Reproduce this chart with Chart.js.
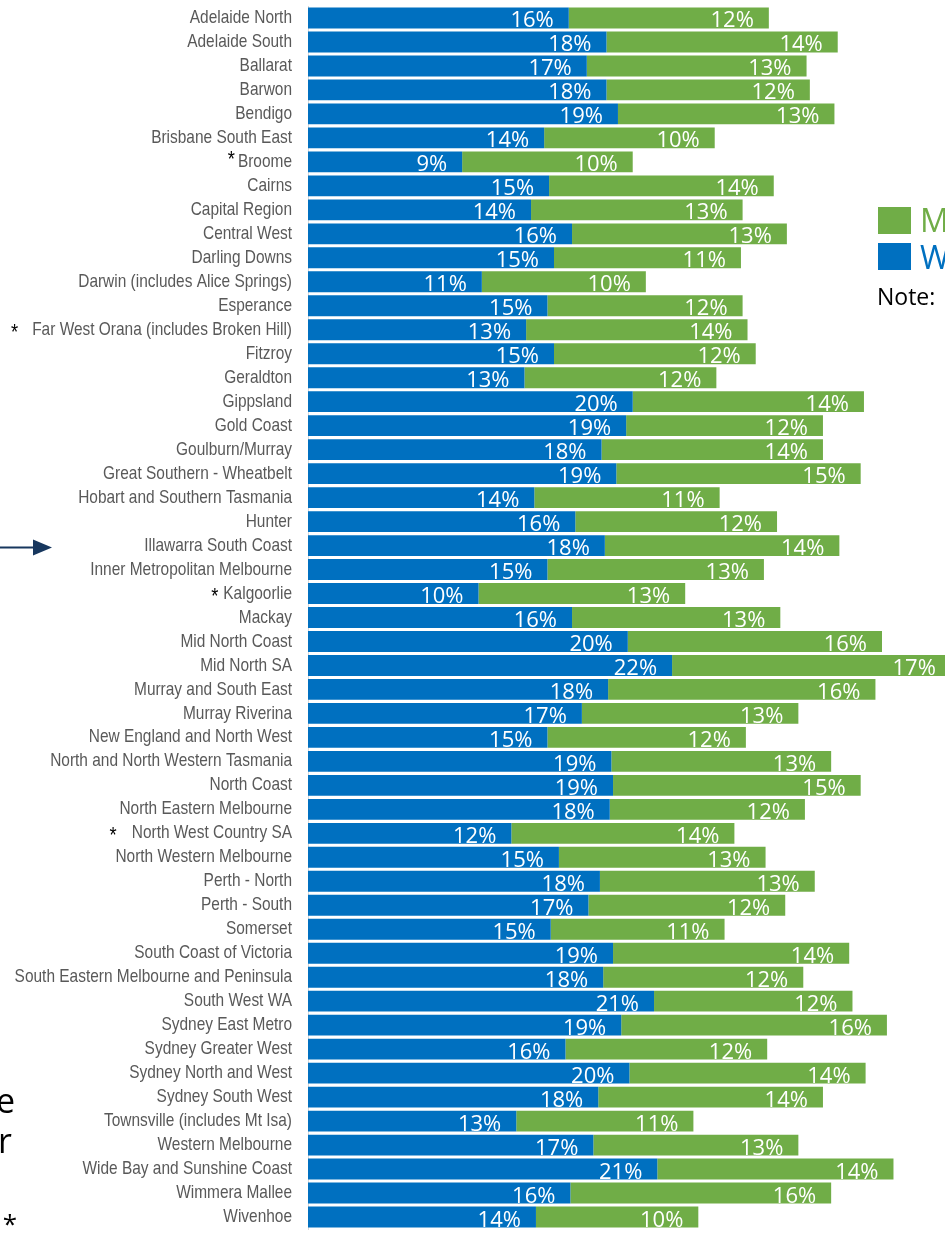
<!DOCTYPE html>
<html>
<head>
<meta charset="utf-8">
<script src="https://cdn.jsdelivr.net/npm/chart.js@4/dist/chart.umd.min.js"></script>
<style>
  html, body { margin: 0; padding: 0; background: #ffffff; }
  #wrap { position: relative; width: 945px; height: 1234px; }
</style>
</head>
<body>
<div id="wrap"><canvas id="chart"></canvas></div>
<script>
// regions, top to bottom
var regions = [
  'Adelaide North', 'Adelaide South', 'Ballarat', 'Barwon', 'Bendigo',
  'Brisbane South East', 'Broome', 'Cairns', 'Capital Region', 'Central West',
  'Darling Downs', 'Darwin (includes Alice Springs)', 'Esperance',
  'Far West Orana (includes Broken Hill)', 'Fitzroy', 'Geraldton', 'Gippsland',
  'Gold Coast', 'Goulburn/Murray', 'Great Southern - Wheatbelt',
  'Hobart and Southern Tasmania', 'Hunter', 'Illawarra South Coast',
  'Inner Metropolitan Melbourne', 'Kalgoorlie', 'Mackay', 'Mid North Coast',
  'Mid North SA', 'Murray and South East', 'Murray Riverina',
  'New England and North West', 'North and North Western Tasmania', 'North Coast',
  'North Eastern Melbourne', 'North West Country SA', 'North Western Melbourne',
  'Perth - North', 'Perth - South', 'Somerset', 'South Coast of Victoria',
  'South Eastern Melbourne and Peninsula', 'South West WA', 'Sydney East Metro',
  'Sydney Greater West', 'Sydney North and West', 'Sydney South West',
  'Townsville (includes Mt Isa)', 'Western Melbourne', 'Wide Bay and Sunshine Coast',
  'Wimmera Mallee', 'Wivenhoe'
];

// W (blue) share, %
var womenValues = [
  15.9, 18.2, 17.0, 18.2, 18.9, 14.4, 9.4, 14.7, 13.6, 16.1,
  15.0, 10.6, 14.6, 13.3, 15.0, 13.2, 19.8, 19.4, 17.9, 18.8,
  13.8, 16.3, 18.1, 14.6, 10.4, 16.1, 19.5, 22.2, 18.3, 16.7,
  14.6, 18.5, 18.6, 18.4, 12.4, 15.3, 17.8, 17.1, 14.8, 18.6,
  18.0, 21.1, 19.1, 15.7, 19.6, 17.7, 12.7, 17.4, 21.3, 16.0,
  13.9
];

// M (green) share, %
var menValues = [
  12.2, 14.1, 13.4, 12.4, 13.2, 10.4, 10.4, 13.7, 12.9, 13.1,
  11.4, 10.0, 11.9, 13.5, 12.3, 11.7, 14.1, 12.0, 13.5, 14.9,
  11.3, 12.3, 14.3, 13.2, 12.6, 12.7, 15.5, 17.0, 16.3, 13.2,
  12.1, 13.4, 15.1, 11.9, 13.6, 12.6, 13.1, 12.0, 10.6, 14.4,
  12.2, 12.1, 16.2, 12.3, 14.4, 13.7, 10.8, 12.5, 14.4, 15.9,
  9.9
];

// regions flagged with an asterisk, and the gap before the label
var starred = ['Broome', 'Far West Orana (includes Broken Hill)', 'Kalgoorlie', 'North West Country SA'];
var starGaps = [3, 14, 5, 15];

var BLUE = '#0070c0';
var GREEN = '#70ad47';
var LABEL_FONT = '18.5px "Liberation Sans", Arial, sans-serif';
var NARROW = 0.835; // squeeze to look like a narrow face
var AXIS_WIDTH = 308;
var LABEL_RIGHT = 292;

// white % labels near the end of each segment
var valueLabels = {
  id: 'valueLabels',
  afterDatasetsDraw: function(chart) {
    var ctx = chart.ctx;
    ctx.save();
    ctx.fillStyle = '#ffffff';
    ctx.font = '22px "Open Sans", sans-serif';
    ctx.textAlign = 'right';
    ctx.textBaseline = 'alphabetic';
    chart.data.datasets.forEach(function(ds, i) {
      chart.getDatasetMeta(i).data.forEach(function(bar, j) {
        ctx.fillText(Math.round(ds.data[j]) + '%', bar.x - 15, bar.y + 9.5);
      });
    });
    ctx.restore();
  }
};

// region names in a narrow face, plus asterisks
var regionLabels = {
  id: 'regionLabels',
  afterDraw: function(chart) {
    var ctx = chart.ctx;
    var yScale = chart.scales.y;
    ctx.save();
    ctx.font = LABEL_FONT;
    ctx.textAlign = 'right';
    ctx.textBaseline = 'middle';
    regions.forEach(function(name, i) {
      var y = yScale.getPixelForValue(i);
      ctx.save();
      ctx.translate(LABEL_RIGHT, y);
      ctx.scale(NARROW, 1);
      ctx.fillStyle = '#595959';
      ctx.fillText(name, 0, 0);
      var k = starred.indexOf(name);
      if (k >= 0) {
        var w = ctx.measureText(name).width;
        ctx.fillStyle = '#000000';
        ctx.font = '22px "Liberation Sans", Arial, sans-serif';
        ctx.fillText('*', -w - starGaps[k] / NARROW, k === 0 ? -2 : 3);
      }
      ctx.restore();
    });
    ctx.restore();
  }
};

// cut-off legend, note, arrow and side text
var extras = {
  id: 'extras',
  afterDraw: function(chart) {
    var ctx = chart.ctx;
    var yScale = chart.scales.y;
    ctx.save();

    // legend squares (text runs off the page)
    ctx.fillStyle = GREEN;
    ctx.fillRect(878, 207, 33, 27);
    ctx.fillStyle = BLUE;
    ctx.fillRect(878, 243, 33, 27);
    ctx.font = '32px "Open Sans", sans-serif';
    ctx.textAlign = 'left';
    ctx.textBaseline = 'alphabetic';
    ctx.fillStyle = GREEN;
    ctx.fillText('Men', 920, 232);
    ctx.fillStyle = BLUE;
    ctx.fillText('Women', 920, 269);
    ctx.fillStyle = '#000000';
    ctx.font = '23px "Open Sans", sans-serif';
    ctx.fillText('Note:', 877, 305);

    // arrow pointing at Illawarra South Coast
    var ay = yScale.getPixelForValue(regions.indexOf('Illawarra South Coast')) + 2;
    ctx.strokeStyle = '#17375e';
    ctx.fillStyle = '#17375e';
    ctx.lineWidth = 2;
    ctx.beginPath();
    ctx.moveTo(0, ay);
    ctx.lineTo(36, ay);
    ctx.stroke();
    ctx.beginPath();
    ctx.moveTo(33, ay - 8);
    ctx.lineTo(52, ay);
    ctx.lineTo(33, ay + 8);
    ctx.closePath();
    ctx.fill();

    // fragments of text cut off on the left edge
    ctx.fillStyle = '#000000';
    ctx.font = '34px "Open Sans", sans-serif';
    ctx.textAlign = 'right';
    ctx.fillText('e', 15, 1113);
    ctx.fillText('r', 12, 1153);
    ctx.font = '26px "Open Sans", sans-serif';
    ctx.fillText('*', 17, 1233);
    ctx.restore();
  }
};

window.onload = function() {
  var ctx = document.getElementById('chart').getContext('2d');
  var config = {
    type: 'bar',
    data: {
      labels: regions,
      datasets: [{
        label: 'Women',
        data: womenValues,
        backgroundColor: BLUE
      }, {
        label: 'Men',
        data: menValues,
        backgroundColor: GREEN
      }]
    },
    options: {
      indexAxis: 'y',
      responsive: true,
      maintainAspectRatio: false,
      animation: false,
      layout: {
        padding: { top: 6, bottom: 5, left: 0, right: 0 }
      },
      datasets: {
        bar: { categoryPercentage: 1, barPercentage: 0.87 }
      },
      plugins: {
        legend: { display: false },
        tooltip: { enabled: false }
      },
      scales: {
        x: {
          stacked: true,
          display: false,
          min: 0,
          max: (945 - AXIS_WIDTH) / 16.4 // 16.4 px per percent
        },
        y: {
          stacked: true,
          grid: { display: false, drawTicks: false },
          border: { display: true, color: '#d9d9d9', width: 1 },
          ticks: { display: false },
          afterFit: function(scale) {
            scale.width = AXIS_WIDTH;
            scale.paddingTop = 0;
            scale.paddingBottom = 0;
          }
        }
      }
    },
    plugins: [valueLabels, regionLabels, extras]
  };

  var myChart = new Chart(ctx, config);
};
</script>
</body>
</html>
